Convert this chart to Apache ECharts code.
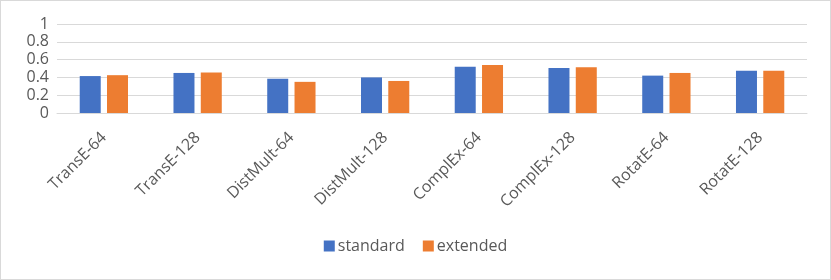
<!DOCTYPE html>
<html><head><meta charset="utf-8">
<script src="https://cdn.jsdelivr.net/npm/echarts@6/dist/echarts.min.js"></script>
<style>html,body{margin:0;padding:0;background:#fff}#c{width:831px;height:280px;box-sizing:border-box;border:1px solid #d9d9d9}</style>
</head><body><div id="c"></div>
<script>
const categories = ['TransE-64','TransE-128','DistMult-64','DistMult-128','ComplEx-64','ComplEx-128','RotatE-64','RotatE-128'];
const standard = [0.415, 0.45, 0.385, 0.40, 0.52, 0.505, 0.42, 0.475];
const extended = [0.425, 0.455, 0.35, 0.36, 0.54, 0.515, 0.45, 0.475];

const chart = echarts.init(document.getElementById('c'));
const font = '"Open Sans", sans-serif';
chart.setOption({
  animation: false,
  grid: {left: 56, right: 23, top: 23, bottom: 166},
  legend: {
    data: ['standard','extended'], bottom: 20, left: 'center',
    itemWidth: 11, itemHeight: 11, itemGap: 18,
    icon: 'rect',
    textStyle: {color: '#595959', fontSize: 16, fontFamily: font, padding: [0,0,0,-2]}
  },
  xAxis: {
    type: 'category', data: categories,
    axisLine: {lineStyle: {color: '#d9d9d9', width: 1}},
    axisTick: {show: false},
    axisLabel: {rotate: 45, color: '#595959', fontSize: 16, fontFamily: font, margin: 22, interval: 0}
  },
  yAxis: {
    type: 'value', min: 0, max: 1, interval: 0.2,
    axisLine: {show: false}, axisTick: {show: false},
    splitLine: {lineStyle: {color: '#d9d9d9', width: 1}},
    axisLabel: {color: '#595959', fontSize: 16, fontFamily: font, margin: 8,
      showMinLabel: true, showMaxLabel: true, hideOverlap: false}
  },
  series: [
    {name: 'standard', type: 'bar', data: standard, barWidth: 21, barGap: '30%', itemStyle: {color: '#4472C4'}},
    {name: 'extended', type: 'bar', data: extended, barWidth: 21, itemStyle: {color: '#ED7D31'}}
  ]
});
</script></body></html>
